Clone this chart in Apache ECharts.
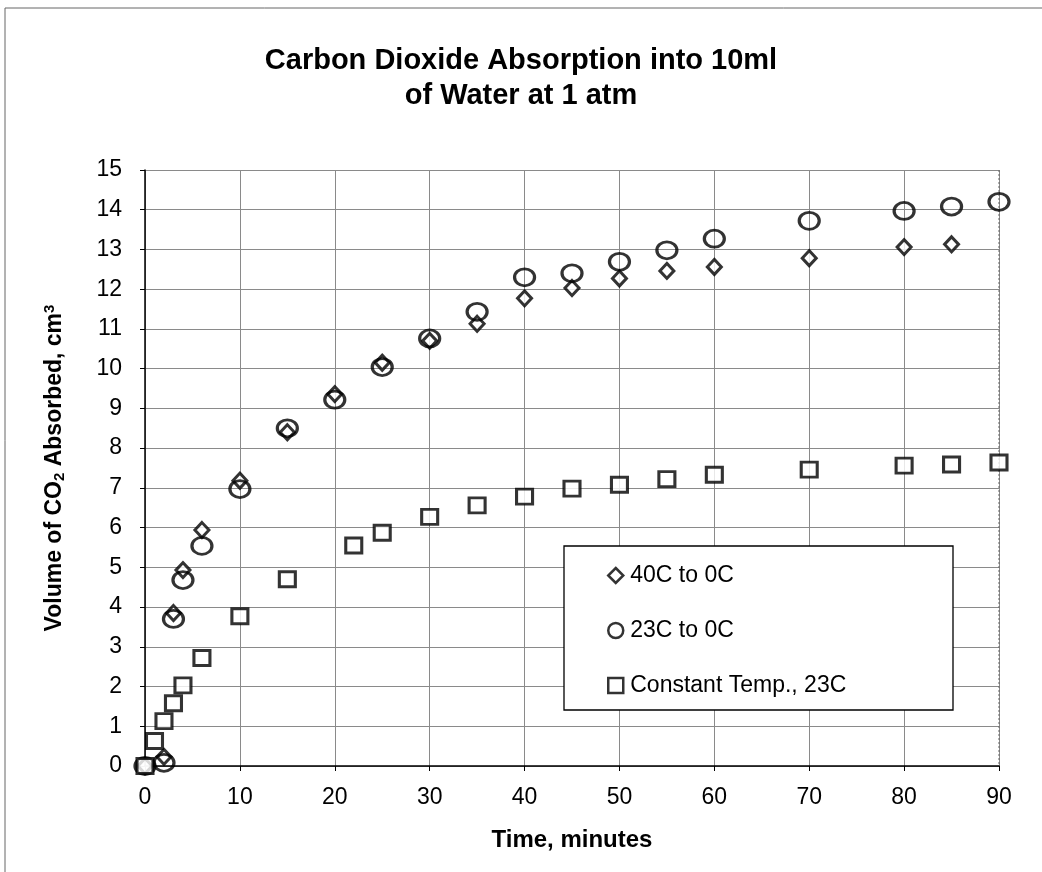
<!DOCTYPE html>
<html>
<head>
<meta charset="utf-8">
<script src="https://cdn.jsdelivr.net/npm/echarts@6/dist/echarts.min.js"></script>
<style>
  html, body { margin: 0; padding: 0; background: #fff; }
  #main { width: 1042px; height: 872px; }
</style>
</head>
<body>
<div id="main"></div>
<script>
// data
var xTicks = [0, 10, 20, 30, 40, 50, 60, 70, 80, 90];
var yTicks = [0, 1, 2, 3, 4, 5, 6, 7, 8, 9, 10, 11, 12, 13, 14, 15];

var t40 = [0, 2, 3, 4, 6, 10, 15, 20, 25, 30, 35, 40, 45, 50, 55, 60, 70, 80, 85];
var v40 = [0, 0.23, 3.85, 4.93, 5.94, 7.18, 8.4, 9.36, 10.15, 10.7, 11.13, 11.77, 12.03, 12.27, 12.46, 12.56, 12.78, 13.06, 13.13];

var t23 = [0, 2, 3, 4, 6, 10, 15, 20, 25, 30, 35, 40, 45, 50, 55, 60, 70, 80, 85, 90];
var v23 = [0, 0.08, 3.7, 4.68, 5.54, 6.97, 8.5, 9.22, 10.04, 10.76, 11.43, 12.3, 12.4, 12.69, 12.98, 13.27, 13.72, 13.97, 14.08, 14.2];

var tConst = [0, 1, 2, 3, 4, 6, 10, 15, 22, 25, 30, 35, 40, 45, 50, 55, 60, 70, 80, 85, 90];
var vConst = [0, 0.63, 1.13, 1.58, 2.03, 2.72, 3.77, 4.7, 5.55, 5.87, 6.27, 6.56, 6.78, 6.98, 7.08, 7.22, 7.33, 7.46, 7.56, 7.59, 7.64];

var seriesNames = ['40C to 0C', '23C to 0C', 'Constant Temp., 23C'];

function pairs(xs, ys) {
    return xs.map(function (x, i) { return [x, ys[i]]; });
}

var font = 'Liberation Sans, Arial, sans-serif';
var chart = echarts.init(document.getElementById('main'));

var option = {
    backgroundColor: '#fff',
    animation: false,
    title: {
        text: 'Carbon Dioxide Absorption into 10ml\nof Water at 1 atm',
        left: 'center',
        top: 38,
        textStyle: { fontFamily: font, fontWeight: 'bold', fontSize: 29, lineHeight: 35, color: '#000' }
    },
    grid: { left: 145, right: 43, top: 170, bottom: 106 },
    xAxis: {
        type: 'value',
        min: 0, max: 90, interval: 10,
        name: 'Time, minutes',
        nameLocation: 'middle',
        nameGap: 62,
        nameTextStyle: { fontFamily: font, fontWeight: 'bold', fontSize: 24, color: '#000' },
        axisLine: { show: true, onZero: false, lineStyle: { color: '#000', width: 1.5 } },
        axisTick: { show: true, length: 5, lineStyle: { color: '#000' } },
        axisLabel: {
            margin: 20, fontFamily: font, fontSize: 23, color: '#000',
            formatter: function (v) { return xTicks.indexOf(v) >= 0 ? String(v) : ''; }
        },
        splitLine: { show: true, lineStyle: { color: '#8a8a8a', width: 1 } }
    },
    yAxis: {
        type: 'value',
        min: 0, max: 15, interval: 1,
        name: '{a|Volume of CO}{sub|2}{a| Absorbed, cm}{sup|3}',
        nameLocation: 'middle',
        nameGap: 78,
        nameRotate: 90,
        nameTextStyle: {
            fontFamily: font, fontWeight: 'bold', fontSize: 23, color: '#000',
            rich: {
                a: { fontFamily: font, fontWeight: 'bold', fontSize: 23, color: '#000' },
                sub: { fontFamily: font, fontWeight: 'bold', fontSize: 15, color: '#000', verticalAlign: 'bottom', padding: [10, 0, 0, 0] },
                sup: { fontFamily: font, fontWeight: 'bold', fontSize: 15, color: '#000', verticalAlign: 'top', padding: [0, 0, 10, 0] }
            }
        },
        axisLine: { show: true, lineStyle: { color: '#000', width: 1.5 } },
        axisTick: { show: true, length: 5, lineStyle: { color: '#000' } },
        axisLabel: {
            margin: 23, fontFamily: font, fontSize: 23, color: '#000',
            formatter: function (v) { return yTicks.indexOf(v) >= 0 ? String(v) : ''; }
        },
        splitLine: { show: true, lineStyle: { color: '#8a8a8a', width: 1 } }
    },
    legend: {
        orient: 'vertical',
        left: 607,
        top: 564,
        z: 10,
        itemGap: 32,
        itemWidth: 15,
        itemHeight: 15,
        padding: 0,
        itemStyle: { borderWidth: 2.5, borderColor: '#000' },
        textStyle: { fontFamily: font, fontSize: 23, color: '#000', padding: [0, 0, 0, 2] },
        data: seriesNames
    },
    graphic: [
        {
            type: 'rect', z: 0,
            shape: { x: 5, y: 8, width: 1040, height: 870 },
            style: { fill: 'none', stroke: '#666', lineWidth: 1 }
        },
        {
            type: 'line', z: 1,
            shape: { x1: 999, y1: 170, x2: 999, y2: 766 },
            style: { stroke: '#666', lineWidth: 1, lineDash: [2, 2] }
        },
        {
            type: 'rect', z: 3,
            shape: { x: 564, y: 546, width: 389, height: 164 },
            style: { fill: '#fff', stroke: '#000', lineWidth: 1.3 }
        }
    ],
    series: [
        {
            name: seriesNames[0],
            type: 'scatter',
            symbol: 'diamond',
            symbolSize: [14, 15],
            itemStyle: { color: '#fff', borderColor: '#000', borderWidth: 3 },
            data: pairs(t40, v40)
        },
        {
            name: seriesNames[1],
            type: 'scatter',
            symbol: 'circle',
            symbolSize: [20, 17],
            itemStyle: { color: 'rgba(255,255,255,0)', borderColor: '#000', borderWidth: 3 },
            data: pairs(t23, v23)
        },
        {
            name: seriesNames[2],
            type: 'scatter',
            symbol: 'rect',
            symbolSize: [16, 15],
            itemStyle: { color: '#fff', borderColor: '#000', borderWidth: 3 },
            data: pairs(tConst, vConst)
        }
    ]
};

chart.setOption(option);
</script>
</body>
</html>
